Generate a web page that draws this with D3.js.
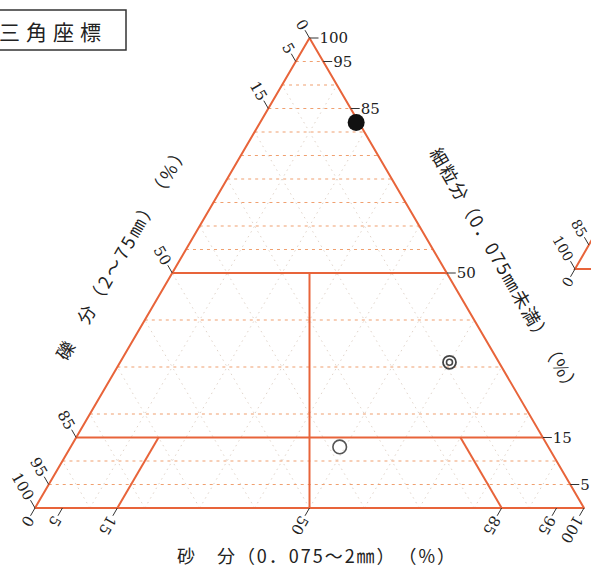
<!DOCTYPE html>
<html>
<head>
<meta charset="utf-8">
<script src="https://cdn.jsdelivr.net/npm/d3@7"></script>
<style>
  html, body { margin: 0; padding: 0; background: #fff; }
  svg { display: block; }
</style>
</head>
<body>
<svg id="chart" width="591" height="569"></svg>
<script>
// Soil classification ternary chart: gravel (礫分), sand (砂分), fines (細粒分)

// tick labels on each side (percent)
const fineTicks   = [100, 95, 85, 50, 15, 5];
const gravelTicks = [0, 5, 15, 50, 85, 95, 100];
const sandTicks   = [0, 5, 15, 50, 85, 95, 100];

// dotted guide lines of constant fines content
const fineGuides = [5, 10, 20, 30, 40, 55, 60, 65, 70, 75, 80, 85, 90, 95];
// faint background triangle grid
const gridSteps = [10, 20, 30, 40, 50, 60, 70, 80, 90];

// classification boundaries: fines levels
const fineBounds = [15, 50];

// sample points: [gravel, sand, fines] in %
const samples = [
  { name: "filled", gravel: 0.5, sand: 17.5, fine: 82 },
  { name: "double", gravel: 9,   sand: 60,   fine: 31 },
  { name: "open",   gravel: 38,  sand: 49,   fine: 13 }
];

const ORANGE = "#e8643a";
const svg = d3.select("#chart");

// scales: sand runs along the base, fines up the height
const baseX = d3.scaleLinear().domain([0, 100]).range([35, 584]);
const fineY = d3.scaleLinear().domain([0, 100]).range([508, 38]);
const baseW = baseX(100) - baseX(0);

// (sand, fines) -> screen position
function proj(sand, fine) {
  return [baseX(0) + baseW * (sand + fine / 2) / 100, fineY(fine)];
}
const line = d3.line();

// faint triangle grid (constant sand and constant gravel lines)
const gridG = svg.append("g")
  .attr("stroke", "#d8c9bd").attr("stroke-width", 0.8)
  .attr("stroke-dasharray", "1.5,4").attr("fill", "none");
gridSteps.forEach(v => {
  gridG.append("path").attr("d", line([proj(v, 0), proj(v, 100 - v)]));
  gridG.append("path").attr("d", line([proj(100 - v, 0), proj(0, 100 - v)]));
});

// dotted constant-fines guides
const guideG = svg.append("g")
  .attr("stroke", "#f0a070").attr("stroke-width", 1.1)
  .attr("stroke-dasharray", "3,4").attr("fill", "none");
fineGuides.forEach(f => {
  guideG.append("path").attr("d", line([proj(0, f), proj(100 - f, f)]));
});

// solid boundary lines
const bG = svg.append("g")
  .attr("stroke", ORANGE).attr("stroke-width", 2).attr("fill", "none")
  .attr("stroke-linejoin", "round");
bG.append("path").attr("d", line([proj(0, 0), proj(100, 0), proj(0, 100)]) + "Z");
fineBounds.forEach(f => {
  bG.append("path").attr("d", line([proj(0, f), proj(100 - f, f)]));
});
// sand = gravel split below 50 % fines
bG.append("path").attr("d", line([proj(50, 0), proj(25, 50)]));
// sand = 15 % and gravel = 15 % below 15 % fines
bG.append("path").attr("d", line([proj(15, 0), proj(15, 15)]));
bG.append("path").attr("d", line([proj(85, 0), proj(70, 15)]));

// ticks and labels
const tickLen = 9;
const numFont = "'DejaVu Serif', 'Liberation Serif', serif";
const tG = svg.append("g").attr("font-family", numFont).attr("font-size", 15).attr("fill", "#222");
const c60 = 0.5, s60 = Math.sqrt(3) / 2;

// fines: right edge, horizontal ticks
fineTicks.forEach(f => {
  const [x, y] = proj(100 - f, f);
  tG.append("line").attr("x1", x).attr("y1", y).attr("x2", x + tickLen).attr("y2", y)
    .attr("stroke", "#333").attr("stroke-width", 1);
  tG.append("text").attr("x", x + tickLen + 1).attr("y", y)
    .attr("dominant-baseline", "central").text(f);
});

// gravel: left edge, ticks up-left
gravelTicks.forEach(g => {
  const [x, y] = proj(0, 100 - g);
  const x2 = x - c60 * tickLen, y2 = y - s60 * tickLen;
  tG.append("line").attr("x1", x).attr("y1", y).attr("x2", x2).attr("y2", y2)
    .attr("stroke", "#333").attr("stroke-width", 1);
  tG.append("text")
    .attr("transform", `translate(${x2 - c60 * 1.5},${y2 - s60 * 1.5}) rotate(60)`)
    .attr("text-anchor", "end").attr("dominant-baseline", "central").text(g);
});

// sand: base, ticks down-left
sandTicks.forEach(s => {
  const [x, y] = proj(s, 0);
  const x2 = x - c60 * tickLen, y2 = y + s60 * tickLen;
  tG.append("line").attr("x1", x).attr("y1", y).attr("x2", x2).attr("y2", y2)
    .attr("stroke", "#333").attr("stroke-width", 1);
  tG.append("text")
    .attr("transform", `translate(${x2 - c60 * 1.5},${y2 + s60 * 1.5}) rotate(120)`)
    .attr("text-anchor", "start").attr("dominant-baseline", "central").text(s);
});

// sample markers
const mG = svg.append("g");
samples.forEach(d => {
  const [x, y] = proj(d.sand, d.fine);
  if (d.name === "filled") {
    mG.append("circle").attr("cx", x).attr("cy", y).attr("r", 8.5).attr("fill", "#111");
  } else if (d.name === "double") {
    mG.append("circle").attr("cx", x).attr("cy", y).attr("r", 6.5)
      .attr("fill", "none").attr("stroke", "#444").attr("stroke-width", 1.8);
    mG.append("circle").attr("cx", x).attr("cy", y).attr("r", 3)
      .attr("fill", "none").attr("stroke", "#444").attr("stroke-width", 1.6);
  } else {
    mG.append("circle").attr("cx", x).attr("cy", y).attr("r", 6.8)
      .attr("fill", "none").attr("stroke", "#555").attr("stroke-width", 1.6);
  }
});

// axis titles
const cjk = "'Noto Sans CJK JP', 'Noto Sans CJK SC', sans-serif";
const titleG = svg.append("g").attr("font-family", cjk).attr("fill", "#222");
titleG.append("text")
  .attr("transform", "translate(121,252) rotate(-60)")
  .attr("text-anchor", "middle").attr("dominant-baseline", "central")
  .attr("font-size", 18).attr("textLength", 244).attr("lengthAdjust", "spacing")
  .text("礫　分（2〜75㎜）　（%）");
titleG.append("text")
  .attr("transform", "translate(506,270) rotate(60)")
  .attr("text-anchor", "middle").attr("dominant-baseline", "central")
  .attr("font-size", 18).attr("textLength", 280).attr("lengthAdjust", "spacing")
  .text("細粒分（0．075㎜未満）　（%）");
titleG.append("text")
  .attr("x", 316).attr("y", 555)
  .attr("text-anchor", "middle").attr("dominant-baseline", "central")
  .attr("font-size", 18).attr("textLength", 278).attr("lengthAdjust", "spacing")
  .text("砂　分（0．075〜2㎜）　（%）");

// heading box
svg.append("rect").attr("x", -6).attr("y", 10).attr("width", 132).attr("height", 40)
  .attr("fill", "#fff").attr("stroke", "#333").attr("stroke-width", 1.5);
svg.append("text").attr("x", -1).attr("y", 31)
  .attr("font-family", cjk).attr("font-size", 21).attr("letter-spacing", 6)
  .attr("dominant-baseline", "central").attr("fill", "#222").text("三角座標");

// neighbouring chart, mostly beyond the right border
const sideX = d3.scaleLinear().domain([0, 100]).range([575, 760]);
const sideY = d3.scaleLinear().domain([0, 100]).range([269, 109]);
const sideW = sideX(100) - sideX(0);
function proj2(sand, fine) {
  return [sideX(0) + sideW * (sand + fine / 2) / 100, sideY(fine)];
}
const sG = svg.append("g");
sG.append("path").attr("d", line([proj2(0, 100), proj2(0, 0), proj2(100, 0)]))
  .attr("fill", "none").attr("stroke", ORANGE).attr("stroke-width", 2);
const sideGravel = [85, 100];
sideGravel.forEach(g => {
  const [x, y] = proj2(0, 100 - g);
  const x2 = x - c60 * tickLen, y2 = y - s60 * tickLen;
  sG.append("line").attr("x1", x).attr("y1", y).attr("x2", x2).attr("y2", y2)
    .attr("stroke", "#333").attr("stroke-width", 1);
  sG.append("text").attr("font-family", numFont).attr("font-size", 14).attr("fill", "#222")
    .attr("transform", `translate(${x2 - c60 * 1.5},${y2 - s60 * 1.5}) rotate(60)`)
    .attr("text-anchor", "end").attr("dominant-baseline", "central").text(g);
});
const sideSand = [0];
sideSand.forEach(s => {
  const [x, y] = proj2(s, 0);
  const x2 = x - c60 * tickLen, y2 = y + s60 * tickLen;
  sG.append("line").attr("x1", x).attr("y1", y).attr("x2", x2).attr("y2", y2)
    .attr("stroke", "#333").attr("stroke-width", 1);
  sG.append("text").attr("font-family", numFont).attr("font-size", 14).attr("fill", "#222")
    .attr("transform", `translate(${x2 - c60 * 1.5},${y2 + s60 * 1.5}) rotate(120)`)
    .attr("text-anchor", "start").attr("dominant-baseline", "central").text(s);
});
</script>
</body>
</html>
